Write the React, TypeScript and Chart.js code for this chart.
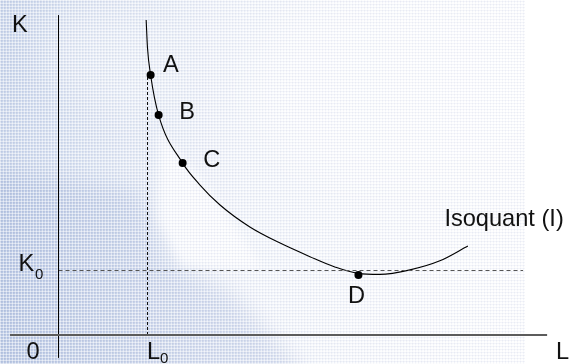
import React, { useEffect, useRef } from "react";
import { Chart, registerables } from "chart.js";

Chart.register(...registerables);

// Isoquant curve: labour (L) against capital (K)
const curveL = [1.97, 2.0, 2.07, 2.25, 2.79, 3.18, 3.63, 4.3, 4.98, 5.65, 6.21, 6.73, 7.22, 7.9, 8.57, 9.2];
const curveK = [9.77, 8.9, 8.06, 6.82, 5.33, 4.65, 4.03, 3.35, 2.85, 2.43, 2.11, 1.91, 1.88, 2.02, 2.3, 2.76];

// Marked input combinations on the isoquant
const pointNames = ["A", "B", "C", "D"];
const pointL = [2.07, 2.25, 2.79, 6.74];
const pointK = [8.06, 6.82, 5.33, 1.86];

// Reference levels
const L0 = 2;
const K0 = 2;

// Axis extents
const axisL = [-1.09, 10.98];
const axisK = [-0.71, 9.92];
const guideEndL = 10.44;

const curveName = "Isoquant (I)";

const W = 569;
const H = 364;
const FONT = '"Liberation Sans", Arial, sans-serif';

// label placement relative to each marked point (pixels)
const pointLabelOffset: [number, number][] = [
  [12.5, -3.5],
  [20.5, 4.3],
  [20.5, 4],
  [-10.5, 27.7],
];

const backdrop = {
  id: "backdrop",
  beforeDraw(chart: any) {
    const { ctx, width, height } = chart;
    ctx.save();
    ctx.fillStyle = "#ffffff";
    ctx.fillRect(0, 0, width, height);

    // pale blue wash on the left
    const g = ctx.createLinearGradient(0, 0, 525, 0);
    g.addColorStop(0, "rgba(168,188,222,0.6)");
    g.addColorStop(0.22, "rgba(182,199,228,0.42)");
    g.addColorStop(0.45, "rgba(198,211,234,0.2)");
    g.addColorStop(0.8, "rgba(212,222,238,0.1)");
    g.addColorStop(1, "rgba(228,235,245,0.04)");
    ctx.fillStyle = g;
    ctx.fillRect(0, 0, 525, height);

    // deeper shade towards the lower left
    ctx.filter = "blur(10px)";
    ctx.fillStyle = "rgba(148,170,212,0.3)";
    ctx.beginPath();
    ctx.moveTo(-20, 170);
    ctx.lineTo(140, 190);
    ctx.lineTo(165, 262);
    ctx.lineTo(235, 295);
    ctx.lineTo(310, 380);
    ctx.lineTo(-20, 380);
    ctx.closePath();
    ctx.fill();

    // lighter patch in the upper left
    ctx.filter = "blur(18px)";
    ctx.fillStyle = "rgba(255,255,255,0.3)";
    ctx.beginPath();
    ctx.ellipse(110, 60, 70, 50, 0.4, 0, Math.PI * 2);
    ctx.fill();

    // light sweep beside the curve
    ctx.filter = "blur(5px)";
    ctx.fillStyle = "rgba(255,255,255,0.75)";
    ctx.beginPath();
    ctx.moveTo(160, 130);
    ctx.lineTo(215, 195);
    ctx.lineTo(262, 268);
    ctx.lineTo(182, 266);
    ctx.lineTo(158, 220);
    ctx.closePath();
    ctx.fill();

    // top right fades to white
    ctx.filter = "blur(20px)";
    ctx.fillStyle = "rgba(255,255,255,0.55)";
    ctx.beginPath();
    ctx.ellipse(410, 90, 160, 100, 0, 0, Math.PI * 2);
    ctx.fill();
    ctx.filter = "none";

    // fine mosaic texture
    for (let x = 0; x < 525; x += 3) {
      ctx.fillStyle = "rgba(255,255,255,0.45)";
      ctx.fillRect(x, 0, 1, height);
      ctx.fillStyle = "rgba(110,132,178,0.07)";
      ctx.fillRect(x + 1, 0, 1, height);
    }
    for (let y = 0; y < height; y += 3) {
      ctx.fillStyle = "rgba(255,255,255,0.45)";
      ctx.fillRect(0, y, 525, 1);
      ctx.fillStyle = "rgba(110,132,178,0.07)";
      ctx.fillRect(0, y + 1, 525, 1);
    }
    ctx.restore();
  },
};

const labels = {
  id: "labels",
  afterDatasetsDraw(chart: any) {
    const { ctx } = chart;
    const xs = chart.scales.x;
    const ys = chart.scales.y;
    const px = (v: number) => xs.getPixelForValue(v);
    const py = (v: number) => ys.getPixelForValue(v);
    ctx.save();
    ctx.fillStyle = "#111111";
    ctx.textAlign = "left";
    ctx.textBaseline = "alphabetic";
    const big = `23.6px ${FONT}`;
    const small = `15px ${FONT}`;
    ctx.font = big;

    pointNames.forEach((n, i) => {
      const [dx, dy] = pointLabelOffset[i];
      ctx.fillText(n, px(pointL[i]) + dx, py(pointK[i]) + dy);
    });

    const endI = curveL.length - 1;
    ctx.fillText(curveName, px(curveL[endI]) - 23.5, py(curveK[endI]) - 20);

    const ox = px(0);
    const oy = py(0);
    // axis names
    ctx.fillText("K", ox - 46.5, py(axisK[1]) + 16.7);
    ctx.fillText("L", px(axisL[1]) + 9, oy + 23.5);
    ctx.fillText("0", ox - 32, oy + 24);

    // K0 on the capital axis
    ctx.fillText("K", ox - 40, py(K0));
    ctx.font = small;
    ctx.fillText("0", ox - 23.5, py(K0) + 8);

    // L0 under the labour axis
    ctx.font = big;
    ctx.fillText("L", px(L0) - 0.5, oy + 24);
    ctx.font = small;
    ctx.fillText("0", px(L0) + 12.5, oy + 28);
    ctx.restore();
  },
};

export default function App() {
  const ref = useRef<HTMLCanvasElement>(null);

  useEffect(() => {
    document.body.style.margin = "0";
    const canvas = ref.current;
    if (!canvas) return;

    const curve = curveL.map((l, i) => ({ x: l, y: curveK[i] }));
    const marks = pointL.map((l, i) => ({ x: l, y: pointK[i] }));
    const iA = 0;

    const chart = new Chart(canvas, {
      type: "scatter",
      data: {
        datasets: [
          {
            label: "L axis",
            data: [
              { x: axisL[0], y: 0 },
              { x: axisL[1], y: 0 },
            ],
            showLine: true,
            borderColor: "#5c5c5c",
            borderWidth: 2,
            pointRadius: 0,
          },
          {
            label: "K axis",
            data: [
              { x: 0, y: axisK[0] },
              { x: 0, y: axisK[1] },
            ],
            showLine: true,
            borderColor: "#000000",
            borderWidth: 1,
            pointRadius: 0,
          },
          {
            label: "K0 guide",
            data: [
              { x: 0, y: K0 },
              { x: guideEndL, y: K0 },
            ],
            showLine: true,
            borderColor: "#555555",
            borderWidth: 1,
            borderDash: [4, 3],
            pointRadius: 0,
          },
          {
            label: "L0 guide",
            data: [
              { x: L0, y: 0 },
              { x: L0, y: pointK[iA] },
            ],
            showLine: true,
            borderColor: "#111111",
            borderWidth: 1,
            borderDash: [3, 2],
            pointRadius: 0,
          },
          {
            label: curveName,
            data: curve,
            showLine: true,
            borderColor: "#000000",
            borderWidth: 1.1,
            pointRadius: 0,
            cubicInterpolationMode: "monotone",
          },
          {
            label: "points",
            data: marks,
            showLine: false,
            pointRadius: 4,
            pointBackgroundColor: "#000000",
            pointBorderColor: "#000000",
            pointBorderWidth: 0,
          },
        ],
      },
      options: {
        responsive: false,
        animation: false,
        events: [],
        layout: { padding: 0, autoPadding: false },
        plugins: {
          legend: { display: false },
          tooltip: { enabled: false },
        },
        scales: {
          x: { type: "linear", min: -58.5 / 44.5, max: (W - 58.5) / 44.5, display: false },
          y: { type: "linear", min: -(H - 335) / 32.25, max: 335 / 32.25, display: false },
        },
      },
      plugins: [backdrop, labels],
    });

    return () => chart.destroy();
  }, []);

  return (
    <div style={{ width: W, height: H }}>
      <canvas ref={ref} width={W} height={H} style={{ display: "block" }} />
    </div>
  );
}
